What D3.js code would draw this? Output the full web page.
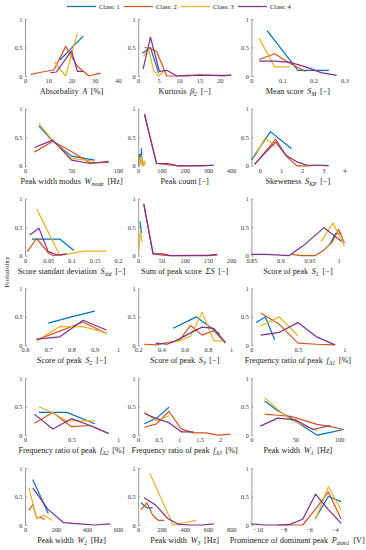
<!DOCTYPE html>
<html>
<head>
<meta charset="utf-8">
<script src="https://cdn.jsdelivr.net/npm/d3@7"></script>
<style>
  body { margin: 0; background: #fff; }
  svg { display: block; font-family: "Liberation Serif", "DejaVu Serif", serif; }
</style>
</head>
<body>
<svg id="chart" width="366" height="550"></svg>
<script>
// classes, in drawing order
const classes = ["Class: 1", "Class: 2", "Class: 3", "Class: 4"]
const colors = ["#0072BD", "#D95319", "#EDB120", "#7E2F8E"]
const yTicks = [0, 0.5, 1]

// each panel: one list of [x, probability] per class (1..4)
const absorbality = [
    [[15, 0.28], [20, 0.49], [25, 0.7]],
    [[2.5, 0.03], [7.5, 0.07], [12.5, 0.11], [17.5, 0.52], [22.5, 0.17], [27.5, 0], [32.5, 0.05]],
    [[12.5, 0.25], [17.5, 0], [22.5, 0.75]],
    [[11, 0.06], [13.5, 0.07], [20, 0.44], [22.5, 0.08], [25, 0.08]]
]
const kurtosis = [
    [[1, 0.4], [3, 0.5], [5, 0.05]],
    [[1.5, 0.5], [3, 0.48], [4.5, 0.43], [7, 0], [9, 0], [12, 0], [15, 0.02], [18, 0.01], [21, 0], [22.8, 0.02]],
    [[1.3, 0.34], [2.5, 0.49], [3.8, 0.09], [5, 0], [6.2, 0.08]],
    [[1.2, 0.12], [3, 0.68], [5.2, 0.08], [7, 0.1], [9.5, 0], [12, 0.01], [15, 0.01], [18, 0.01], [22.8, 0.01]]
]
const meanScore = [
    [[0.05, 0.8], [0.15, 0.1], [0.2, 0.1], [0.25, 0.1]],
    [[0.025, 0.29], [0.075, 0.39], [0.125, 0.22], [0.175, 0.08]],
    [[0.025, 0.66], [0.075, 0.16], [0.125, 0.16]],
    [[0.025, 0.26], [0.075, 0.26], [0.125, 0.24], [0.175, 0.16], [0.225, 0.06], [0.275, 0.01]]
]
const widthModus = [
    [[15, 0.7], [30, 0.43], [50, 0.17], [75, 0.1]],
    [[10, 0.24], [30, 0.43], [50, 0.25], [70, 0.05], [90, 0.06]],
    [[15, 0.74], [30, 0.44], [50, 0.13], [75, 0.08]],
    [[10, 0.32], [30, 0.45], [50, 0.1], [70, 0.04], [90, 0.08]]
]
const peakCount = [
    [[3, 0], [6, 0.2], [8, 0.1], [10, 0.2], [12, 0.05], [14, 0.3], [16, 0.02], [18, 0.1], [20, 0]],
    [[27, 0.91], [79, 0.04], [125, 0.02], [175, 0], [325, 0.01]],
    [[5, 0], [8, 0.15], [10, 0.05], [12, 0.18], [14, 0.02], [16, 0.12], [18, 0.03], [20, 0.08], [22, 0], [25, 0.06], [28, 0.08], [30, 0]],
    [[27, 0.9], [79, 0.04], [125, 0.04], [170, 0], [230, 0], [280, 0], [325, 0.01]]
]
const skewness = [
    [[-0.4, 0.1], [0.5, 0.6], [1.5, 0.3]],
    [[-0.25, 0.02], [0.75, 0.47], [1.25, 0.17], [1.75, 0], [2.25, 0], [2.75, 0.01], [3.25, 0.01]],
    [[-0.25, 0.15], [0.25, 0.49], [0.75, 0.34]],
    [[-0.25, 0.03], [0.75, 0.42], [1.25, 0.18], [1.75, 0.07], [2.25, 0.01], [2.75, 0.01], [3.25, 0]]
]
const scoreStd = [
    [[0.015, 0.29], [0.04, 0.29], [0.075, 0.29], [0.105, 0.09]],
    [[0.005, 0.07], [0.025, 0.3], [0.05, 0.05], [0.06, 0], [0.075, 0.02]],
    [[0.025, 0.82], [0.075, 0], [0.125, 0.08], [0.175, 0.08]],
    [[0.01, 0.36], [0.03, 0.48], [0.05, 0.07], [0.07, 0.01], [0.09, 0.03]]
]
const sumScore = [
    [[4, 0.6], [7, 0.4]],
    [[12, 0.91], [32, 0.03], [52, 0.01], [70, 0], [170, 0.01]],
    [[1.5, 0.08], [4.5, 0.42], [8, 0.26], [10, 0.25]],
    [[12, 0.9], [32, 0.03], [52, 0.03], [70, 0], [110, 0], [150, 0], [170, 0.02]]
]
const scoreS1 = [
    [[0.985, 0.2], [0.995, 0.39], [1.005, 0.39]],
    [[0.92, 0.02], [0.935, 0], [0.96, 0], [0.975, 0.1], [0.99, 0.25], [1.0, 0.46], [1.01, 0.22]],
    [[0.97, 0.25], [0.99, 0.57], [1.01, 0.17]],
    [[0.85, 0.02], [0.875, 0.02], [0.9, 0.01], [0.915, 0], [0.94, 0.18], [0.975, 0.49], [1.005, 0.25]]
]
const scoreS2 = [
    [[0.7, 0.39], [0.8, 0.5], [0.9, 0.6]],
    [[0.65, 0.1], [0.75, 0.25], [0.85, 0.41], [0.95, 0.21]],
    [[0.65, 0.08], [0.75, 0.33], [0.85, 0.33], [0.95, 0.22]],
    [[0.65, 0.11], [0.75, 0.15], [0.85, 0.44], [0.95, 0.27]]
]
const scoreS3 = [
    [[0.5, 0.3], [0.7, 0.5], [0.9, 0.2]],
    [[0.25, 0.02], [0.35, 0.01], [0.45, 0.05], [0.55, 0.08], [0.65, 0.35], [0.75, 0.18], [0.85, 0.26], [0.95, 0.04]],
    [[0.45, 0.05], [0.55, 0.08], [0.65, 0.16], [0.75, 0.58], [0.85, 0.08], [0.95, 0.08]],
    [[0.35, 0.04], [0.45, 0.02], [0.55, 0.11], [0.65, 0.22], [0.75, 0.32], [0.85, 0.3], [0.95, 0.05]]
]
const freqRatio1 = [
    [[0.05, 0.4], [0.15, 0.5], [0.25, 0.1]],
    [[0.1, 0.57], [0.3, 0.37], [0.5, 0.04], [0.7, 0.02], [0.9, 0.01]],
    [[0.1, 0.34], [0.3, 0.5], [0.5, 0.17]],
    [[0.1, 0.18], [0.3, 0.23], [0.5, 0.4], [0.7, 0.15], [0.9, 0.01]]
]
const freqRatio2 = [
    [[0.15, 0.4], [0.45, 0.4], [0.75, 0.2]],
    [[0.1, 0.21], [0.3, 0.4], [0.5, 0.15], [0.7, 0.17], [0.9, 0.03]],
    [[0.15, 0.5], [0.3, 0.39], [0.45, 0.25], [0.75, 0.25]],
    [[0.1, 0.37], [0.3, 0.11], [0.5, 0.29], [0.7, 0.17], [0.9, 0.03]]
]
const freqRatio3 = [
    [[0.15, 0.2], [0.45, 0.3], [0.75, 0.49]],
    [[0.15, 0.14], [0.45, 0.2], [0.75, 0.42], [1.05, 0.11], [1.35, 0.04], [1.65, 0.04], [1.95, 0], [2.25, 0.02]],
    [[0.15, 0.41], [0.45, 0.25], [0.75, 0.34]],
    [[0.15, 0.38], [0.45, 0.29], [0.75, 0.22], [1.05, 0.06], [1.35, 0.06]]
]
const peakWidth1 = [
    [[15, 0.6], [30, 0.43], [45, 0.3], [60, 0.15], [75, 0], [90, 0.05], [105, 0.1]],
    [[15, 0.37], [30, 0.35], [45, 0.33], [60, 0.26], [75, 0.19], [90, 0.15], [105, 0.1]],
    [[15, 0.66], [30, 0.45], [45, 0.27], [60, 0.17], [75, 0.08]],
    [[10, 0.16], [30, 0.3], [50, 0.27], [70, 0.1], [90, 0.17]]
]
const peakWidth2 = [
    [[50, 0.8], [100, 0.5], [150, 0.2]],
    [[25, 0.26], [50, 0.36], [75, 0.12], [100, 0.14], [125, 0.09]],
    [[25, 0.66], [75, 0.12], [125, 0.17], [175, 0.08]],
    [[50, 0.65], [150, 0.27], [250, 0.04], [350, 0.02], [450, 0], [550, 0.02]]
]
const peakWidth3 = [
    [[25, 0.39], [75, 0.3], [125, 0.3]],
    [[25, 0.27], [75, 0.39], [125, 0.17], [175, 0.08], [225, 0.08]],
    [[100, 0.91], [300, 0], [500, 0.08]],
    [[50, 0.48], [150, 0.35], [250, 0.12], [350, 0.01], [450, 0], [550, 0], [650, 0.02]]
]
const prominence = [
    [[-5.5, 0.12], [-4.5, 0.5], [-3.5, 0.41]],
    [[-8.5, 0], [-7.5, 0], [-6.5, 0], [-5.5, 0.28], [-4.5, 0.58], [-3.5, 0.1]],
    [[-5.5, 0.1], [-4.5, 0.67], [-3.5, 0.26]],
    [[-10.5, 0.02], [-9.5, 0], [-8.5, 0], [-7.5, 0.01], [-6.5, 0.1], [-5.5, 0.54], [-4.5, 0.27], [-3.5, 0.03]]
]

// panel table: data, x domain, x ticks, label [name, symbol, subscript, unit]
const panels = [
    { data: absorbality, dom: [0, 40], ticks: [0, 10, 20, 30, 40], label: ["Absorbality", "A", "", "[%]"] },
    { data: kurtosis, dom: [0, 22.8], ticks: [0, 5, 10, 15, 20], label: ["Kurtosis", "β", "2", "[−]"] },
    { data: meanScore, dom: [0, 0.3], ticks: [0, 0.1, 0.2, 0.3], label: ["Mean score", "S", "M", "[−]"] },
    { data: widthModus, dom: [0, 100], ticks: [0, 50, 100], label: ["Peak width modus", "W", "mode", "[Hz]"] },
    { data: peakCount, dom: [0, 400], ticks: [0, 100, 200, 300, 400], label: ["Peak count [−]", "", "", ""] },
    { data: skewness, dom: [-0.4, 4], ticks: [0, 1, 2, 3, 4], label: ["Skeweness", "S", "KP", "[−]"] },
    { data: scoreStd, dom: [0, 0.2], ticks: [0, 0.05, 0.1, 0.15, 0.2], label: ["Score standart deviation", "S", "std", "[−]"] },
    { data: sumScore, dom: [0, 200], ticks: [0, 50, 100, 150, 200], label: ["Sum of peak score", "ΣS", "", "[−]"] },
    { data: scoreS1, dom: [0.85, 1.01], ticks: [0.85, 0.9, 0.95, 1], label: ["Score of peak", "S", "1", "[−]"] },
    { data: scoreS2, dom: [0.6, 1], ticks: [0.6, 0.7, 0.8, 0.9, 1], label: ["Score of peak", "S", "2", "[−]"] },
    { data: scoreS3, dom: [0.2, 1], ticks: [0.2, 0.4, 0.6, 0.8, 1], label: ["Score of peak", "S", "3", "[−]"] },
    { data: freqRatio1, dom: [0, 1], ticks: [0, 0.5, 1], label: ["Frequency ratio of peak", "f", "Δ1", "[%]"] },
    { data: freqRatio2, dom: [0, 1], ticks: [0, 0.5, 1], label: ["Frequency ratio of peak", "f", "Δ2", "[%]"] },
    { data: freqRatio3, dom: [0, 2.27], ticks: [0, 0.5, 1, 1.5, 2], label: ["Frequency ratio of peak", "f", "Δ3", "[%]"] },
    { data: peakWidth1, dom: [0, 106], ticks: [0, 50, 100], label: ["Peak width", "W", "1", "[Hz]"] },
    { data: peakWidth2, dom: [0, 600], ticks: [0, 200, 400, 600], label: ["Peak width", "W", "2", "[Hz]"] },
    { data: peakWidth3, dom: [0, 800], ticks: [0, 200, 400, 600, 800], label: ["Peak width", "W", "3", "[Hz]"] },
    { data: prominence, dom: [-10.5, -3.25], ticks: [-10, -8, -6, -4], label: ["Prominence of dominant peak", "P", "dom1", "[V]"] }
]

const svg = d3.select("#chart")
const gap = "\u00a0\u2009"

// grid geometry
const plotW = 93, plotH = 57
const colX = j => 25 + j * 113.2
const rowY = i => 76 + i * 89.8 - plotH

const fmt = d3.format("")

panels.forEach(function (p, k) {
    const col = k % 3, row = Math.floor(k / 3)
    const g = svg.append("g").attr("transform", translate(colX(col), rowY(row)))

    const x = d3.scaleLinear().domain(p.dom).range([0, plotW])
    const y = d3.scaleLinear().domain([0, 1]).range([plotH, 0])

    // x tick labels only (no axis line in the original)
    const xa = g.append("g")
        .attr("transform", translate(0, plotH))
        .call(d3.axisBottom(x).tickValues(p.ticks).tickFormat(fmt).tickSize(0).tickPadding(2.5))
    xa.select(".domain").remove()
    xa.selectAll("text")
        .style("font-family", "Liberation Serif, serif")
        .style("font-size", "6.3px")
        .attr("fill", "#333")

    // y axis, gray line with inward ticks
    const ya = g.append("g")
        .call(d3.axisLeft(y).tickValues(yTicks).tickFormat(fmt).tickSize(-2).tickPadding(2.5).tickSizeOuter(0))
    ya.select(".domain").attr("stroke", "#9a9a9a").attr("stroke-width", 1)
    ya.selectAll(".tick line").attr("stroke", "#9a9a9a")
    ya.selectAll("text")
        .style("font-family", "Liberation Serif, serif")
        .style("font-size", "6.3px")
        .attr("fill", "#333")

    const line = d3.line().x(d => x(d[0])).y(d => y(d[1]))
    p.data.forEach(function (series, c) {
        g.append("path")
            .attr("d", line(series))
            .attr("fill", "none")
            .attr("stroke", colors[c])
            .attr("stroke-width", 1.2)
            .attr("stroke-linejoin", "round")
    })

    // axis label with italic symbol and subscript
    const lab = g.append("text")
        .attr("x", plotW / 2)
        .attr("y", plotH + 18)
        .attr("text-anchor", "middle")
        .style("font-size", "8.2px")
        .attr("fill", "#222")
    const [name, sym, sub, unit] = p.label
    lab.append("tspan").text(name)
    if (sym) {
        lab.append("tspan").text(gap + sym).style("font-style", "italic")
        if (sub) {
            lab.append("tspan").text(sub)
                .attr("dy", 2).style("font-size", "5.8px").style("font-style", "italic")
            lab.append("tspan").text(gap + unit).attr("dy", -2)
        } else {
            lab.append("tspan").text(gap + unit)
        }
    }
    // keep the label inside the page
    const bb = lab.node().getBBox()
    const over = colX(col) + bb.x + bb.width - 365
    if (over > 0) lab.attr("x", plotW / 2 - over)
})

// shared y label
svg.append("text")
    .attr("transform", "translate(9,272) rotate(-90)")
    .attr("text-anchor", "middle")
    .style("font-size", "7px")
    .attr("fill", "#222")
    .text("Probability")

// legend along the top
const legend = svg.append("g").attr("transform", translate(67, 6.5))
classes.forEach(function (name, c) {
    const item = legend.append("g").attr("transform", translate(c * 57, 0))
    item.append("line")
        .attr("x1", 0).attr("x2", 29)
        .attr("stroke", colors[c]).attr("stroke-width", 1.2)
    item.append("text")
        .attr("x", 32).attr("y", 2.3)
        .style("font-size", "6.5px")
        .attr("fill", "#222")
        .text(name)
})

function translate(x, y) {
    return "translate(" + x + "," + y + ")";
}
</script>
</body>
</html>
